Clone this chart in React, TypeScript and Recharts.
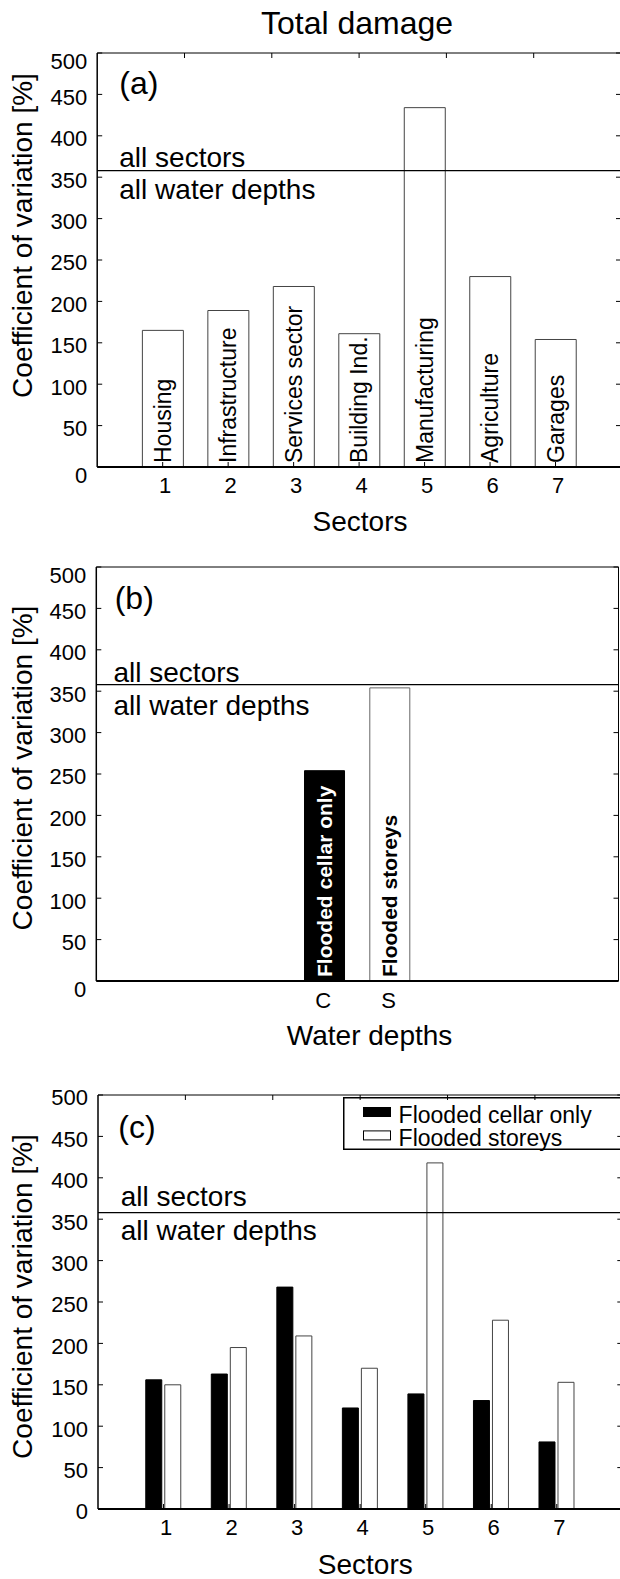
import React from "react";
import { Bar, BarChart, Cell, LabelList, Legend, ReferenceLine, XAxis, YAxis } from "recharts";

// values
const sectorIds = ["1", "2", "3", "4", "5", "6", "7"];
const sectorNames = ["Housing", "Infrastructure", "Services sector", "Building Ind.", "Manufacturing", "Agriculture", "Garages"];
const totalCv = [165, 189, 218, 161, 434, 230, 154];
const cellarCv = [156, 163, 268, 122, 139, 131, 81];
const storeyCv = [150, 195, 209, 170, 418, 228, 153];
const depthIds = ["C", "S"];
const depthNames = ["Flooded cellar only", "Flooded storeys"];
const depthCv = [254, 354];
const overallCv = 358;
const cvTicks = [0, 50, 100, 150, 200, 250, 300, 350, 400, 450, 500];
const sectorTicks = [1, 2, 3, 4, 5, 6, 7];

const totalData = sectorIds.map((id, i) => ({ id, name: sectorNames[i], cv: totalCv[i] }));
const splitData = sectorIds.map((id, i) => ({ id, cellar: cellarCv[i], storeys: storeyCv[i] }));
const depthData = depthIds.map((id, i) => ({ id, name: depthNames[i], cv: depthCv[i] }));

const depthFill = ["#000", "#fff"];
const depthStroke = ["#000", "#666"];
const depthText = ["#fff", "#000"];

const FONT = '"Liberation Sans", Arial, Helvetica, sans-serif';
const CHART_W = 660;
const PLOT_H = 414;

type Geo = { top: number; left: number; right: number; head: number; foot: number };

const geoA: Geo = { top: 52.5, left: 97.2, right: 621, head: 51, foot: 78 };
const geoB: Geo = { top: 566.5, left: 96.3, right: 618.5, head: 20, foot: 80 };
const geoC: Geo = { top: 1094.5, left: 98, right: 622.3, head: 20, foot: 80 };

const divTop = (g: Geo) => g.top - g.head - 1;
const chartH = (g: Geo) => g.head + 1 + PLOT_H + g.foot;
// page y -> svg y of the panel
const py = (g: Geo, y: number) => y - divTop(g);

const noText = () => "";

const boxOf = (p: any) => {
  const vb = p.viewBox && typeof p.viewBox.width === "number" ? p.viewBox : p;
  return { x: Number(vb.x), y: Number(vb.y), w: Number(vb.width), h: Number(vb.height) };
};

function makeYTick(endShift: number) {
  return (p: any) => {
    const v = p.payload.value;
    const shift = v === 0 || v === 500 ? endShift : 2.5;
    return (
      <text x={p.x} y={p.y + shift + 7.9} textAnchor="end" fontSize={22} fill="#000">
        {v}
      </text>
    );
  };
}
const yTickA = makeYTick(8);
const yTickC = makeYTick(2.5);

const sectorTick = (p: any) => (
  <text x={p.x + 2.5} y={p.y + 26} textAnchor="middle" fontSize={22} fill="#000">
    {p.payload.value}
  </text>
);

const depthTick = (p: any) => (
  <text x={p.x - 1.5} y={p.y + 26} textAnchor="middle" fontSize={22} fill="#000">
    {p.payload.value}
  </text>
);

const renderSectorName = (p: any) => {
  const b = boxOf(p);
  const tx = b.x + b.w / 2 + 8;
  const ty = b.y + b.h - 4;
  const label = p.value ?? sectorNames[p.index];
  return (
    <text x={tx} y={ty} transform={`rotate(-90 ${tx} ${ty})`} fontSize={23} fill="#000">
      {label}
    </text>
  );
};

const renderDepthName = (p: any) => {
  const b = boxOf(p);
  const tx = b.x + b.w / 2 + 7.5;
  const ty = b.y + b.h - 4;
  const label = p.value ?? depthNames[p.index];
  return (
    <text x={tx} y={ty} transform={`rotate(-90 ${tx} ${ty})`} fontSize={21} fontWeight="bold" fill={depthText[p.index] ?? "#000"}>
      {label}
    </text>
  );
};

function yLabel(g: Geo, centerY: number) {
  return () => {
    const cy = py(g, centerY);
    return (
      <text x={32.3} y={cy} transform={`rotate(-90 32.3 ${cy})`} textAnchor="middle" fontSize={28} fill="#000">
        Coefficient of variation [%]
      </text>
    );
  };
}

function xLabel(g: Geo, text: string, cx: number, baseY: number) {
  return () => (
    <text x={cx} y={py(g, baseY)} textAnchor="middle" fontSize={28} fill="#000">
      {text}
    </text>
  );
}

function panelLetter(g: Geo, letter: string, x: number, baseY: number, title?: string) {
  return () => (
    <g>
      {title ? (
        <text x={357} y={py(g, 33)} textAnchor="middle" fontSize={32} fill="#000">
          {title}
        </text>
      ) : null}
      <text x={x} y={py(g, baseY)} fontSize={32} fill="#000">
        {letter}
      </text>
    </g>
  );
}

function notes(x: number, above: number, below: number) {
  return (p: any) => {
    const b = boxOf(p);
    return (
      <g>
        <text x={x} y={b.y - above} fontSize={28} fill="#000">
          all sectors
        </text>
        <text x={x} y={b.y + below} fontSize={28} fill="#000">
          all water depths
        </text>
      </g>
    );
  };
}

const renderLegend = (props: any) => {
  const items = props.payload ?? [];
  return (
    <svg width={300} height={58} style={{ display: "block", overflow: "visible" }}>
      <rect x={0.75} y={0.75} width={298} height={51.5} fill="none" stroke="#000" strokeWidth={1.5} />
      {items.map((it: any, i: number) => (
        <g key={i}>
          <rect x={20.5} y={10.5 + 23.4 * i} width={27} height={9} fill={it.color ?? depthFill[i]} stroke="#000" strokeWidth={1} />
          <text x={55.6} y={26 + 23 * i} fontSize={23} fill="#000" fontFamily={FONT}>
            {it.value}
          </text>
        </g>
      ))}
    </svg>
  );
};

// panel-specific label renderers, built once
const yLabelA = yLabel(geoA, 235);
const yLabelB = yLabel(geoB, 767.5);
const yLabelC = yLabel(geoC, 1296);
const topA = panelLetter(geoA, "(a)", 119.3, 93.5, "Total damage");
const topB = panelLetter(geoB, "(b)", 114.7, 608);
const topC = panelLetter(geoC, "(c)", 118.3, 1137);
const xLabelA = xLabel(geoA, "Sectors", 360, 530);
const xLabelB = xLabel(geoB, "Water depths", 369.6, 1044);
const xLabelC = xLabel(geoC, "Sectors", 365.3, 1573.5);
const notesA = notes(119.3, 3.3, 28.5);
const notesB = notes(113.5, 2.3, 30);
const notesC = notes(120.7, 6.7, 27);

function frame(g: Geo, yTick: (p: any) => any, yLab: () => any, topLabel: () => any) {
  return [
    <YAxis
      key="yl"
      yAxisId={0}
      type="number"
      domain={[0, 500]}
      ticks={cvTicks}
      interval={0}
      allowDataOverflow
      width={g.left}
      tickSize={-5}
      tickMargin={15}
      tick={yTick}
      axisLine={{ stroke: "#000", strokeWidth: 1.5 }}
      tickLine={{ stroke: "#000" }}
      label={{ content: yLab } as any}
    />,
    <YAxis
      key="yr"
      yAxisId={9}
      orientation="right"
      type="number"
      domain={[0, 500]}
      ticks={cvTicks}
      interval={0}
      allowDataOverflow
      width={CHART_W - g.right}
      tickSize={-5}
      tickFormatter={noText}
      axisLine={{ stroke: "#000" }}
      tickLine={{ stroke: "#000" }}
    />,
    <XAxis
      key="xt"
      xAxisId={9}
      orientation="top"
      type="number"
      domain={[0, 8]}
      ticks={sectorTicks}
      interval={0}
      allowDataOverflow
      height={1}
      tickSize={-5}
      tickFormatter={noText}
      axisLine={{ stroke: "#000" }}
      tickLine={{ stroke: "#000" }}
      label={{ content: topLabel } as any}
    />,
  ];
}

function TotalPanel() {
  const g = geoA;
  const half = (g.right - g.left) / 16;
  return (
    <div style={{ position: "absolute", left: 0, top: divTop(g) }}>
      <BarChart width={CHART_W} height={chartH(g)} data={totalData} margin={{ top: g.head, right: 0, bottom: 0, left: 0 }} barCategoryGap="19%">
        {frame(g, yTickA, yLabelA, topA)}
        <XAxis
          xAxisId={0}
          dataKey="id"
          type="category"
          padding={{ left: half, right: half }}
          interval={0}
          height={g.foot}
          tickSize={-5}
          tickMargin={5}
          tick={sectorTick}
          axisLine={{ stroke: "#000", strokeWidth: 2 }}
          tickLine={{ stroke: "#000" }}
          label={{ content: xLabelA } as any}
        />
        <Bar dataKey="cv" fill="#fff" stroke="#444" strokeWidth={1} isAnimationActive={false}>
          <LabelList dataKey="name" content={renderSectorName} />
        </Bar>
        <ReferenceLine y={overallCv} stroke="#000" strokeWidth={1.2} label={{ content: notesA } as any} />
      </BarChart>
    </div>
  );
}

function DepthPanel() {
  const g = geoB;
  const side = (3 * (g.right - g.left)) / 8;
  return (
    <div style={{ position: "absolute", left: 0, top: divTop(g) }}>
      <BarChart width={CHART_W} height={chartH(g)} data={depthData} margin={{ top: g.head, right: 0, bottom: 0, left: 0 }} barCategoryGap="19%">
        {frame(g, yTickA, yLabelB, topB)}
        {/* inward tick marks at the sector positions, sits right on the plot edge */}
        <XAxis
          xAxisId={1}
          type="number"
          domain={[0, 8]}
          ticks={sectorTicks}
          interval={0}
          allowDataOverflow
          height={1}
          tickSize={-5}
          tickFormatter={noText}
          axisLine={{ stroke: "#000", strokeWidth: 2 }}
          tickLine={{ stroke: "#000" }}
        />
        {/* C / S labels between the marks */}
        <XAxis
          xAxisId={2}
          dataKey="id"
          type="category"
          padding={{ left: side, right: side }}
          interval={0}
          height={g.foot - 1}
          tickSize={0}
          tickMargin={0}
          tickLine={false}
          axisLine={false}
          tick={depthTick}
          label={{ content: xLabelB } as any}
        />
        <Bar xAxisId={2} dataKey="cv" isAnimationActive={false}>
          {depthData.map((d, i) => (
            <Cell key={d.id} fill={depthFill[i]} stroke={depthStroke[i]} strokeWidth={1} />
          ))}
          <LabelList dataKey="name" content={renderDepthName} />
        </Bar>
        <ReferenceLine xAxisId={2} y={overallCv} stroke="#000" strokeWidth={1.2} label={{ content: notesB } as any} />
      </BarChart>
    </div>
  );
}

function SplitPanel() {
  const g = geoC;
  const half = (g.right - g.left) / 16;
  return (
    <div style={{ position: "absolute", left: 0, top: divTop(g) }}>
      <BarChart width={CHART_W} height={chartH(g)} data={splitData} margin={{ top: g.head, right: 0, bottom: 0, left: 0 }} barGap={3}>
        {frame(g, yTickC, yLabelC, topC)}
        <XAxis
          xAxisId={0}
          dataKey="id"
          type="category"
          padding={{ left: half, right: half }}
          interval={0}
          height={g.foot}
          tickSize={-5}
          tickMargin={5}
          tick={sectorTick}
          axisLine={{ stroke: "#000", strokeWidth: 2 }}
          tickLine={{ stroke: "#000" }}
          label={{ content: xLabelC } as any}
        />
        <Bar dataKey="cellar" name={depthNames[0]} fill="#000" stroke="#000" strokeWidth={1} barSize={16} isAnimationActive={false} />
        <Bar dataKey="storeys" name={depthNames[1]} fill="#fff" stroke="#444" strokeWidth={1} barSize={16} isAnimationActive={false} />
        <ReferenceLine y={overallCv} stroke="#000" strokeWidth={1.2} label={{ content: notesC } as any} />
        <Legend
          layout="horizontal"
          verticalAlign="middle"
          align="center"
          content={renderLegend}
          wrapperStyle={{ left: 342.7, top: 1097.3 - divTop(g), width: 300, height: 58 }}
        />
      </BarChart>
    </div>
  );
}

export default function App() {
  return (
    <div
      style={{
        position: "absolute",
        left: 0,
        top: 0,
        width: 620,
        height: 1579,
        overflow: "hidden",
        background: "#fff",
        fontFamily: FONT,
      }}
    >
      <TotalPanel />
      <DepthPanel />
      <SplitPanel />
    </div>
  );
}
